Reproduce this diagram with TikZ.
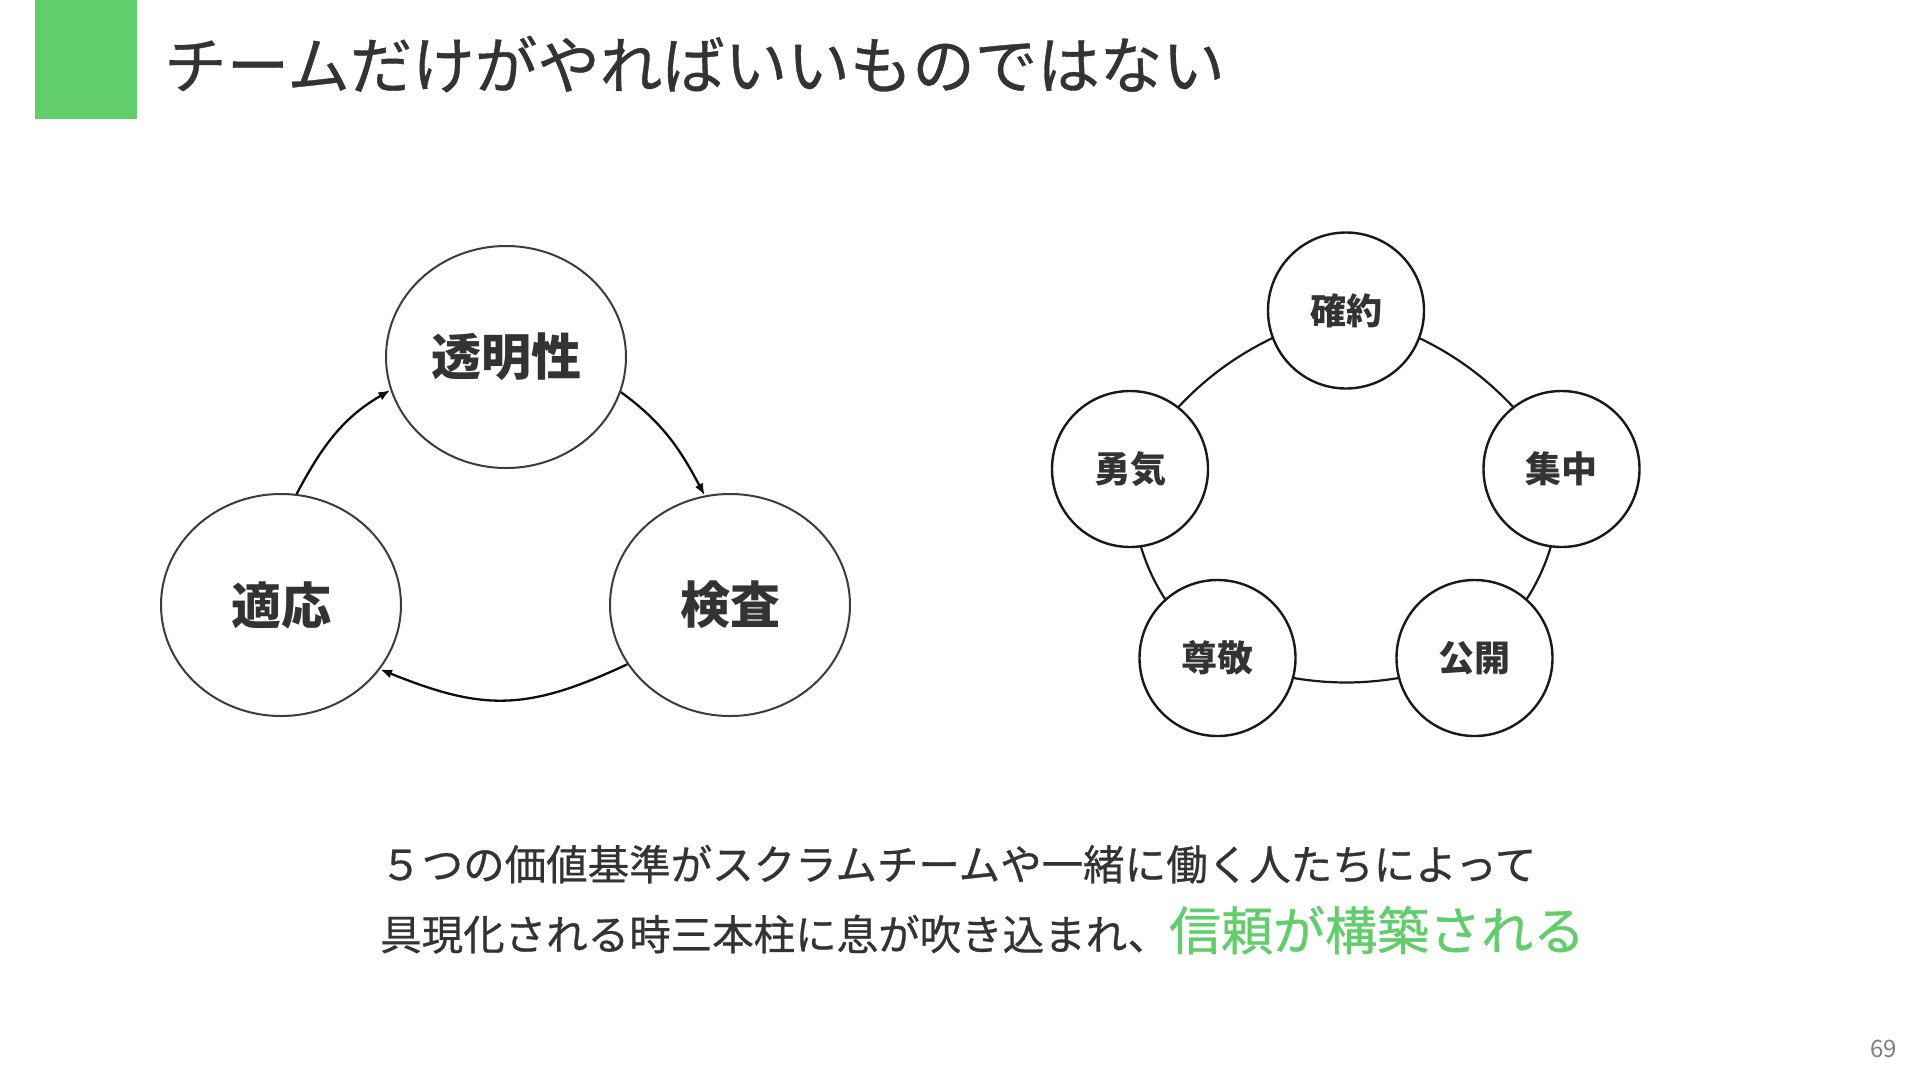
\documentclass[tikz,border=0pt]{standalone}
\usepackage{fontspec}
\setmainfont{Noto Sans CJK JP}
\newfontfamily\medjp{Noto Sans CJK JP}[FakeBold=0.6]
\usetikzlibrary{shapes.geometric,arrows.meta,backgrounds}
\definecolor{accent}{HTML}{62CD6B}
\definecolor{ink}{HTML}{333333}
\definecolor{lline}{HTML}{3C3C3C}
\definecolor{pagegray}{HTML}{808080}
\begin{document}
\begin{tikzpicture}[x=1pt,y=1pt,
  lellipse/.style={shape=ellipse, draw=lline, line width=2pt, fill=white,
    minimum width=240pt, minimum height=222pt, inner sep=0pt,
    font=\bfseries\fontsize{50}{50}\selectfont, text=ink},
  rcirc/.style={shape=circle, draw=black!90, line width=2.4pt, fill=white,
    minimum size=156pt, inner sep=0pt,
    font=\bfseries\fontsize{36}{36}\selectfont, text=ink},
  cyc/.style={line width=2.3pt, draw=black!95, -{Latex[length=12pt,width=9pt]}},
  ring/.style={line width=2.2pt, draw=black!90},
  txt/.style={inner sep=0pt, text=ink}
]
\useasboundingbox (0,0) rectangle (1920,-1080);
\begin{pgfonlayer}{background}
\fill[white] (0,0) rectangle (1920,-1080);
\end{pgfonlayer}

% header
\fill[accent] (35,0) rectangle (137,-119);
\node[txt, anchor=west, font=\medjp\fontsize{62.5}{62.5}\selectfont] (title) at (164,-64) {チームだけがやればいいものではない};

% left cycle
\node[lellipse] (tr) at (506,-357) {透明性};
\node[lellipse] (ks) at (730,-605) {検査};
\node[lellipse] (tk) at (281,-605) {適応};
\draw[cyc] (tk.82) to[out=62,in=210] (tr.196);
\draw[cyc] (tr.343) to[out=-36,in=118] (ks.103);
\draw[cyc] (ks.210) to[out=205,in=-22,looseness=1.15] (tk.327);

% right pentagon
\node[rcirc] (kq) at (1346,-310.5) {確約};
\node[rcirc] (yu) at (1130,-469) {勇気};
\node[rcirc] (sc) at (1561.5,-469) {集中};
\node[rcirc] (sn) at (1217.5,-658) {尊敬};
\node[rcirc] (ko) at (1474.5,-658) {公開};
\begin{pgfonlayer}{background}
\draw[ring] (kq.center) to[bend left=20] (sc.center)
            to[bend left=24] (ko.center)
            to[bend left=19] (sn.center)
            to[bend left=24] (yu.center)
            to[bend left=20] (kq.center);
\end{pgfonlayer}

% bottom text
\node[txt, anchor=base west, font=\medjp\fontsize{41.5}{41.5}\selectfont] (l1) at (380,-880) {５つの価値基準がスクラムチームや一緒に働く人たちによって};
\node[txt, anchor=base west, font=\medjp\fontsize{41.5}{41.5}\selectfont] (l2) at (380,-950) {具現化される時三本柱に息が吹き込まれ、{\color{accent}\fontsize{52}{52}\selectfont 信頼が構築される}};

% page number
\node[anchor=base east, inner sep=0pt, text=pagegray, font=\fontsize{24}{24}\selectfont] (pg) at (1897,-1057) {69};
\end{tikzpicture}
\end{document}
